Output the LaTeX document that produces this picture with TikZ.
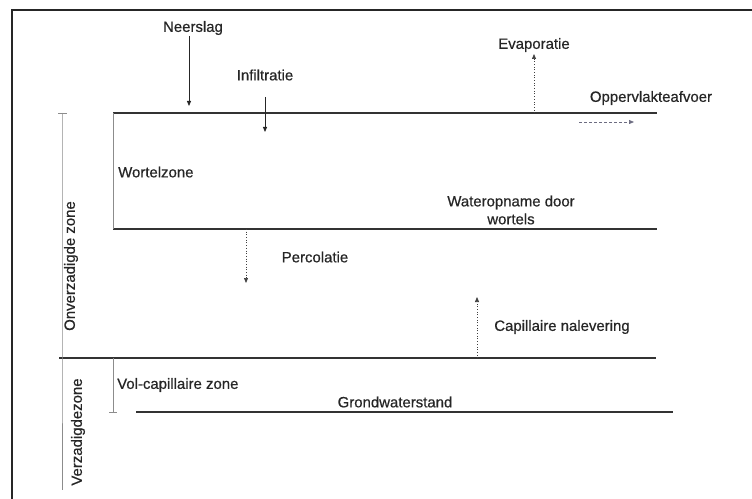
\documentclass[tikz,border=0pt]{standalone}
\usepackage{fontspec}
\setmainfont{Liberation Sans}[FakeBold=0.6]
\usetikzlibrary{arrows.meta}
\begin{document}
\begin{tikzpicture}[x=1bp,y=-1bp,
  lbl/.style={font=\fontsize{15}{17}\selectfont, inner sep=0pt, text=black!85},
  zoneline/.style={line width=1.3pt, black!80},
  thin/.style={line width=0.6pt, black!45},
  frame/.style={line width=1.6pt, black!85},
  tip/.style={-{Triangle[length=5bp,width=4bp]}},
  solidarrow/.style={tip, line width=0.8pt, black!85},
  dotarrow/.style={tip, line width=0.7pt, black!75, dotted},
  dasharrow/.style={tip, line width=0.7pt, black!45!blue!15!gray, dash pattern=on 3bp off 2bp}]
\useasboundingbox (0,0) rectangle (752,499);
% frame
\coordinate (fTL) at (12,10);
\coordinate (fTR) at (752,10);
\coordinate (fBL) at (12,499);
\draw[frame] (fTR) -- (fTL) -- (fBL);
% zone lines
\coordinate (wtL) at (113,113); \coordinate (wtR) at (657,113);
\coordinate (wbL) at (113,229); \coordinate (wbR) at (657,229);
\coordinate (gbL) at (59,358);  \coordinate (gbR) at (656,358);
\coordinate (gwL) at (136,412); \coordinate (gwR) at (673,412);
\draw[zoneline] (wtL) -- (wtR);
\draw[zoneline] (wbL) -- (wbR);
\draw[zoneline] (gbL) -- (gbR);
\draw[zoneline] (gwL) -- (gwR);
\draw[thin] (wtL) -- (wbL);
% brackets
\coordinate (oT) at (62,113); \coordinate (oB) at (62,358);
\coordinate (vB) at (62,490);
\draw[thin] (oT) -- (oB) -- (vB);
\draw[thin] (58,113) -- (67,113);
\coordinate (vcT) at (113,358); \coordinate (vcB) at (113,412);
\draw[thin] (vcT) -- (vcB);
\draw[thin] (109,412) -- (117,412);
% labels
\node[lbl] (neerslag) at (193,28) {Neerslag};
\node[lbl] (infil) at (265,75) {Infiltratie};
\node[lbl] (evap) at (534,45) {Evaporatie};
\node[lbl] (opp) at (651,98) {Oppervlakteafvoer};
\node[lbl, anchor=west] (wortel) at (118,172) {Wortelzone};
\node[lbl, align=center, font=\fontsize{15}{18}\selectfont] (water) at (511,210) {Wateropname door\\wortels};
\node[lbl] (perc) at (315,257) {Percolatie};
\node[lbl] (cap) at (562,327) {Capillaire nalevering};
\node[lbl, anchor=west] (volcap) at (117,385) {Vol-capillaire zone};
\node[lbl] (grond) at (395,402) {Grondwaterstand};
\node[lbl, rotate=90] (onv) at (71,266) {Onverzadigde zone};
\node[lbl, rotate=90] (verz) at (78,432) {Verzadigdezone};
% arrows
\coordinate (nA) at (189,36); \coordinate (nB) at (189,106);
\draw[solidarrow] (nA) -- (nB);
\coordinate (iA) at (265,97); \coordinate (iB) at (265,132);
\draw[solidarrow] (iA) -- (iB);
\coordinate (eA) at (534,113); \coordinate (eB) at (534,54);
\draw[dotarrow] (eA) -- (eB);
\coordinate (oA) at (579,122); \coordinate (oB2) at (634,122);
\draw[dasharrow] (oA) -- (oB2);
\coordinate (pA) at (246,229); \coordinate (pB) at (246,283);
\draw[dotarrow] (pA) -- (pB);
\coordinate (cA) at (477,358); \coordinate (cB) at (477,297);
\draw[dotarrow] (cA) -- (cB);
\end{tikzpicture}
\end{document}
